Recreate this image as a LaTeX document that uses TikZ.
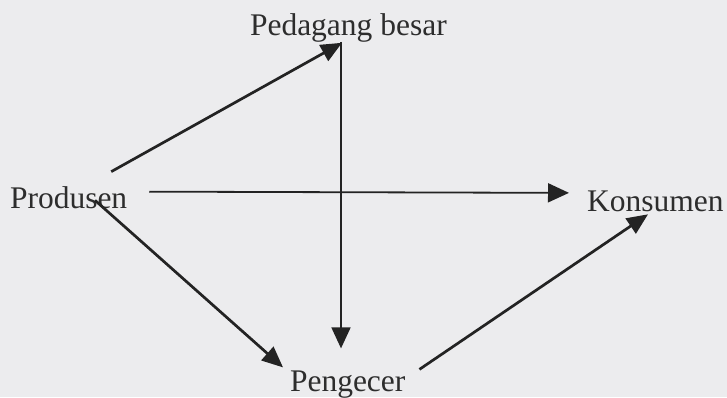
\documentclass[tikz,border=0pt]{standalone}
\usepackage{fontspec}
\setmainfont{Liberation Serif}
\usetikzlibrary{arrows.meta,calc}
\definecolor{paper}{RGB}{236,236,238}
\definecolor{ink}{RGB}{35,35,35}
\definecolor{txt}{RGB}{45,45,45}
\begin{document}
\begin{tikzpicture}[x=1pt,y=-1pt,
  lbl/.style={inner sep=0pt,outer sep=0pt,anchor=base west,text=txt,font=\fontsize{31.5}{36}\selectfont},
  flow/.style={draw=ink,line width=2.7pt,-{Triangle[length=21pt,width=18pt]}},
  flowthin/.style={draw=ink,line width=1.8pt,-{Triangle[length=21pt,width=19pt]}}]
\fill[paper] (0,0) rectangle (727,397);
\useasboundingbox (0,0) rectangle (727,397);
\node[lbl] (pb) at (250,35) {Pedagang besar};
\node[lbl] (prod) at (10,208) {Produsen};
\node[lbl] (kon) at (587,211) {Konsumen};
\node[lbl] (pen) at (290,391) {Pengecer};
\draw[flow] ($(prod.north east)+(-16,-14.5)$) -- ($(pb.south west)+(92,1)$);
\draw[flowthin] ($(pb.south west)+(91,0)$) -- ($(pen.north west)+(51,-22)$);
\draw[flowthin] ($(prod.north east)+(22,5.5)$) -- ($(kon.north west)+(-18,2.5)$);
\draw[flow] ($(prod.south west)+(85,-8)$) -- ($(pen.north west)+(-7,-3)$);
\draw[flow] ($(pen.north east)+(14,-1)$) -- ($(kon.south west)+(61,3)$);
\end{tikzpicture}
\end{document}
